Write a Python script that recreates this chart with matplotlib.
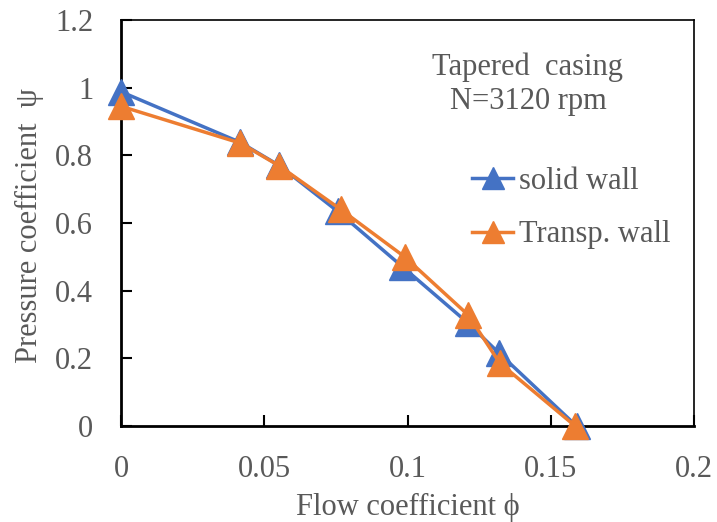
import matplotlib
matplotlib.use("Agg")
import matplotlib.pyplot as plt

phi_solid = [0.0, 0.0417, 0.0552, 0.0757, 0.0982, 0.1210, 0.1320, 0.1590]
psi_solid = [0.988, 0.838, 0.770, 0.634, 0.471, 0.305, 0.215, 0.0]
phi_transp = [0.0, 0.0417, 0.0552, 0.0767, 0.0990, 0.1212, 0.1322, 0.1585]
psi_transp = [0.945, 0.836, 0.769, 0.640, 0.500, 0.328, 0.186, 0.0]

xticks = [0, 0.05, 0.1, 0.15, 0.2]
xticklabels = ["0", "0.05", "0.1", "0.15", "0.2"]
yticks = [0, 0.2, 0.4, 0.6, 0.8, 1.0, 1.2]
yticklabels = ["0", "0.2", "0.4", "0.6", "0.8", "1", "1.2"]

plt.rcParams['font.family'] = ['Liberation Serif', 'DejaVu Serif']
gray = '#595959'
blue = '#4472C4'
orange = '#ED7D31'
fs = 22

fig = plt.figure(figsize=(7.17, 5.22), dpi=100)
L, R, B, T = 121, 694, 426, 20
ax = fig.add_axes([L/717, 1-B/522, (R-L)/717, (B-T)/522])

ax.plot(phi_solid, psi_solid, color=blue, lw=2.5, marker='^', ms=19,
        label='solid wall', clip_on=False, zorder=3)
ax.plot(phi_transp, psi_transp, color=orange, lw=2.5, marker='^', ms=19,
        label='Transp. wall', clip_on=False, zorder=4)

ax.set_xlim(0, 0.2)
ax.set_ylim(0, 1.2)
ax.set_xticks(xticks)
ax.set_xticklabels(xticklabels)
ax.set_yticks(yticks)
ax.set_yticklabels(yticklabels)
ax.tick_params(direction='in', length=8, width=1.5, labelsize=fs,
               labelcolor=gray, color='black')
ax.tick_params(axis='x', pad=21)
ax.tick_params(axis='y', pad=20)
for s in ['left', 'bottom']:
    ax.spines[s].set_linewidth(2)
for s in ['top', 'right']:
    ax.spines[s].set_linewidth(1.2)

ax.set_xlabel('Flow coefficient ϕ', fontsize=fs, color=gray)
ax.set_ylabel('Pressure coefficient  ψ', fontsize=fs, color=gray)
ax.xaxis.set_label_coords(0.5, (B - 493) / (B - T))
ax.yaxis.set_label_coords((44 - L) / (R - L), 0.495)

ax.text((528 - L) / (R - L), (B - 84) / (B - T), 'Tapered  casing\nN=3120 rpm',
        transform=ax.transAxes, ha='center', va='center', fontsize=fs,
        color=gray, linespacing=1.25)

leg = ax.legend(loc='upper left', bbox_to_anchor=((472 - L) / (R - L), (B - 167) / (B - T)),
                frameon=False, fontsize=fs, handlelength=1.35, handletextpad=0.2,
                labelspacing=0.8, markerscale=0.8, borderaxespad=0, borderpad=0)
for t in leg.get_texts():
    t.set_color(gray)

fig.savefig('out.png', dpi=100)
